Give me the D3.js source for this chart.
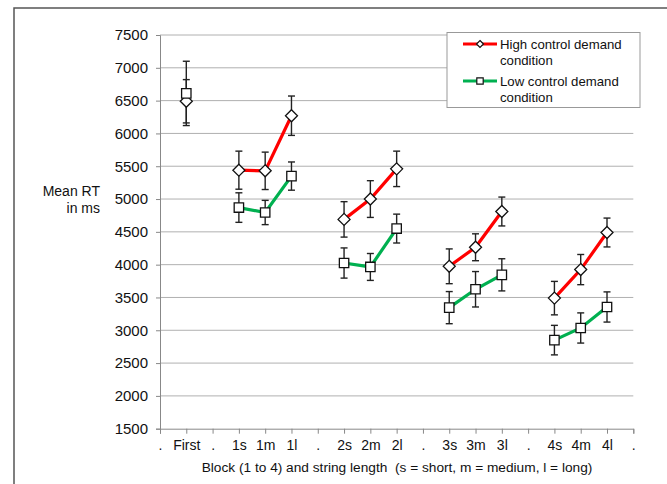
<!DOCTYPE html>
<html>
<head>
<meta charset="utf-8">
<script src="https://cdn.jsdelivr.net/npm/d3@7"></script>
<style>
  body { margin: 0; background: #fff; }
  svg { display: block; font-family: "Liberation Sans", Arial, sans-serif; }
</style>
</head>
<body>
<svg id="chart" width="667" height="484"></svg>
<script>
// x categories ("." are empty spacer slots between blocks)
const categories = [".", "First", ".", "1s", "1m", "1l", ".", "2s", "2m", "2l", ".", "3s", "3m", "3l", ".", "4s", "4m", "4l", "."];
// high control demand condition
const highMean = [null, 6490, null, 5440, 5430, 6270, null, 4690, 5000, 5460, null, 3975, 4265, 4810, null, 3490, 3925, 4490, null];
const highErr  = [null, 330, null, 290, 285, 300, null, 270, 280, 270, null, 265, 205, 220, null, 255, 230, 220, null];
// low control demand condition
const lowMean = [null, 6610, null, 4870, 4795, 5350, null, 4025, 3965, 4550, null, 3345, 3625, 3845, null, 2850, 3035, 3355, null];
const lowErr  = [null, 490, null, 225, 185, 215, null, 230, 205, 220, null, 245, 270, 245, null, 225, 230, 230, null];
const yTicks = [1500, 2000, 2500, 3000, 3500, 4000, 4500, 5000, 5500, 6000, 6500, 7000, 7500];

const svg = d3.select("#chart");

const x = d3.scalePoint()
    .domain(d3.range(categories.length))
    .range([160, 633.3]);
const y = d3.scaleLinear()
    .domain([1500, 7500])
    .range([428.7, 35]);

// outer frame (only left/top visible)
svg.append("rect")
    .attr("x", 14).attr("y", 8)
    .attr("width", 700).attr("height", 600)
    .attr("fill", "none")
    .attr("stroke", "#555")
    .attr("stroke-width", 1.5);

// gridlines
svg.append("g")
    .selectAll("line")
    .data(yTicks.slice(1))
    .enter().append("line")
    .attr("x1", x.range()[0]).attr("x2", x.range()[1])
    .attr("y1", d => y(d)).attr("y2", d => y(d))
    .attr("stroke", "#b0b0b0")
    .attr("stroke-width", 1);

// y axis
const yAxis = svg.append("g")
    .attr("transform", `translate(${x.range()[0]},0)`)
    .call(d3.axisLeft(y).tickValues(yTicks).tickSize(4).tickPadding(8).tickFormat(d3.format("d")));
yAxis.select(".domain").attr("stroke", "#888");
yAxis.selectAll(".tick line").attr("stroke", "#888");
yAxis.selectAll("text").attr("font-size", 15).attr("fill", "#111").attr("font-family", null);

// x axis
const xAxis = svg.append("g")
    .attr("transform", `translate(0,${y(1500)})`)
    .call(d3.axisBottom(x).tickSize(5).tickPadding(6).tickFormat(i => categories[i]));
xAxis.select(".domain").attr("stroke", "#888");
xAxis.selectAll(".tick line").attr("stroke", "#888");
xAxis.selectAll("text").attr("font-size", 14).attr("fill", "#111").attr("font-family", null);

// axis titles
svg.append("text")
    .attr("x", 100).attr("y", 196)
    .attr("text-anchor", "end")
    .attr("font-size", 14).attr("fill", "#111")
    .text("Mean RT");
svg.append("text")
    .attr("x", 100).attr("y", 213)
    .attr("text-anchor", "end")
    .attr("font-size", 14).attr("fill", "#111")
    .text("in ms");
svg.append("text")
    .attr("x", 397).attr("y", 472)
    .attr("text-anchor", "middle")
    .attr("font-size", 13.7).attr("fill", "#111")
    .text("Block (1 to 4) and string length  (s = short, m = medium, l = long)")
    .style("white-space", "pre");

const series = [
  { name: "High control demand", mean: highMean, err: highErr, color: "#ff0000", marker: "diamond" },
  { name: "Low control demand", mean: lowMean, err: lowErr, color: "#00b050", marker: "square" }
];

const line = d3.line()
    .defined(d => d.v !== null)
    .x(d => x(d.i))
    .y(d => y(d.v));

// Draw lines
series.forEach(s => {
  const pts = s.mean.map((v, i) => ({ i, v }));
  svg.append("path")
      .datum(pts)
      .attr("fill", "none")
      .attr("stroke", s.color)
      .attr("stroke-width", 3.2)
      .attr("d", line);
});

// error bars
series.forEach(s => {
  const pts = s.mean.map((v, i) => ({ i, v, e: s.err[i] })).filter(d => d.v !== null);
  const g = svg.append("g").attr("stroke", "#222").attr("stroke-width", 1.4);
  g.selectAll(".bar").data(pts).enter().append("line")
      .attr("x1", d => x(d.i)).attr("x2", d => x(d.i))
      .attr("y1", d => y(d.v + d.e)).attr("y2", d => y(d.v - d.e));
  g.selectAll(".capTop").data(pts).enter().append("line")
      .attr("x1", d => x(d.i) - 3.5).attr("x2", d => x(d.i) + 3.5)
      .attr("y1", d => y(d.v + d.e)).attr("y2", d => y(d.v + d.e));
  g.selectAll(".capBot").data(pts).enter().append("line")
      .attr("x1", d => x(d.i) - 3.5).attr("x2", d => x(d.i) + 3.5)
      .attr("y1", d => y(d.v - d.e)).attr("y2", d => y(d.v - d.e));
});

// markers
const diamond = r => `M0,${-r}L${r},0L0,${r}L${-r},0Z`;
const square = r => `M${-r},${-r}H${r}V${r}H${-r}Z`;
series.forEach(s => {
  const pts = s.mean.map((v, i) => ({ i, v })).filter(d => d.v !== null);
  svg.append("g").selectAll("path")
      .data(pts).enter().append("path")
      .attr("transform", d => `translate(${x(d.i)},${y(d.v)})`)
      .attr("d", s.marker === "diamond" ? diamond(6) : square(4.7))
      .attr("fill", "#fff")
      .attr("stroke", "#111")
      .attr("stroke-width", 1.3);
});

// legend
const legend = svg.append("g");
legend.append("rect")
    .attr("x", 447).attr("y", 32.5)
    .attr("width", 193).attr("height", 75)
    .attr("fill", "#fff")
    .attr("stroke", "#999")
    .attr("stroke-width", 1);
series.forEach((s, k) => {
  const cy = 44 + k * 37;
  legend.append("line")
      .attr("x1", 463).attr("x2", 497)
      .attr("y1", cy).attr("y2", cy)
      .attr("stroke", s.color).attr("stroke-width", 3);
  legend.append("path")
      .attr("transform", `translate(480,${cy})`)
      .attr("d", s.marker === "diamond" ? diamond(3.5) : square(3.2))
      .attr("fill", "#fff").attr("stroke", "#111").attr("stroke-width", 1.2);
  legend.append("text")
      .attr("x", 500).attr("y", cy + 5)
      .attr("font-size", 13.2).attr("fill", "#111")
      .text(s.name);
  legend.append("text")
      .attr("x", 500).attr("y", cy + 20.5)
      .attr("font-size", 13.2).attr("fill", "#111")
      .text("condition");
});
</script>
</body>
</html>
